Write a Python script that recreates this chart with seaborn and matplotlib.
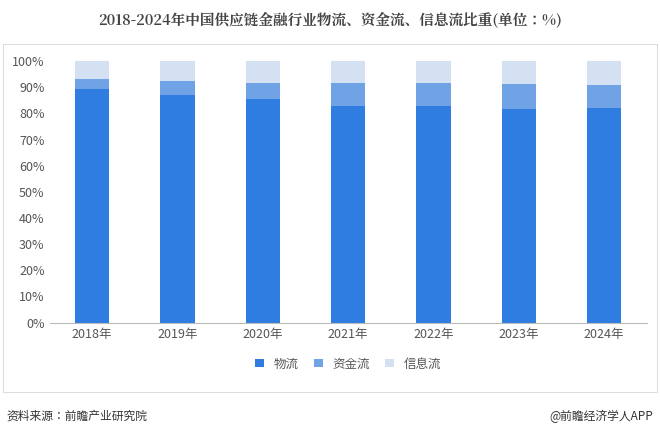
import matplotlib
matplotlib.use("Agg")
import matplotlib.pyplot as plt
from matplotlib import font_manager as fm
import seaborn as sns
import pandas as pd
from matplotlib.ticker import PercentFormatter
import glob

for f in glob.glob("/usr/share/fonts/**/*CJK*", recursive=True) + glob.glob("/usr/share/fonts/**/*cjk*", recursive=True):
    try:
        fm.fontManager.addfont(f)
    except Exception:
        pass
cjk = sorted(set(f.name for f in fm.fontManager.ttflist if "CJK" in f.name))
sans = [n for n in cjk if "Sans" in n]
serif = [n for n in cjk if "Serif" in n]
fam = "Noto Sans CJK SC" if "Noto Sans CJK SC" in sans else (sans[0] if sans else (cjk[0] if cjk else "DejaVu Sans"))
tfam = ("Noto Serif CJK SC" if "Noto Serif CJK SC" in serif else serif[0]) if serif else fam
plt.rcParams["font.family"] = [fam, "DejaVu Sans"]

years = ["2018年", "2019年", "2020年", "2021年", "2022年", "2023年", "2024年"]
wuliu = [89.3, 86.9, 85.5, 82.8, 82.8, 81.6, 82.0]
zijin = [4.0, 5.6, 6.0, 8.7, 8.7, 9.6, 8.8]
xinxi = [6.7, 7.5, 8.5, 8.5, 8.5, 8.8, 9.2]
names = ["物流", "资金流", "信息流"]
colors = ["#2f7de1", "#6fa3e6", "#d3e1f3"]

fig = plt.figure(figsize=(6.6, 4.36), dpi=100)
ax = fig.add_axes([0.075, 0.26, 0.905, 0.6])
fig.patch.set_facecolor("white")

bottoms = [0] * len(years)
for name, vals, c in zip(names, [wuliu, zijin, xinxi], colors):
    df = pd.DataFrame({"year": years, "v": vals})
    sns.barplot(data=df, x="year", y="v", bottom=bottoms, color=c, width=0.4,
                ax=ax, label=name, saturation=1)
    bottoms = [b + v for b, v in zip(bottoms, vals)]

ax.set_ylim(0, 100)
ax.set_yticks(range(0, 101, 10))
ax.yaxis.set_major_formatter(PercentFormatter(decimals=0))
ax.set_xlabel("")
ax.set_ylabel("")
ax.tick_params(length=0, labelsize=9, colors="#555555")
for s in ["top", "right", "left"]:
    ax.spines[s].set_visible(False)
ax.spines["bottom"].set_color("#bbbbbb")
ax.legend(loc="upper center", bbox_to_anchor=(0.5, -0.09), ncol=3, frameon=False,
          fontsize=9, handlelength=0.7, handleheight=0.7, columnspacing=1.2,
          labelcolor="#555555")

fig.text(0.5, 0.955, "2018-2024年中国供应链金融行业物流、资金流、信息流比重(单位：%)",
         ha="center", va="center", fontsize=10.5, fontweight="bold", color="#444444",
         fontfamily=tfam)
fig.add_artist(plt.Rectangle((0.005, 0.1), 0.99, 0.80, fill=False, edgecolor="#dddddd",
                             lw=0.8, transform=fig.transFigure))
fig.text(0.01, 0.045, "资料来源：前瞻产业研究院", fontsize=8.5, color="#333333", va="center")
fig.text(0.99, 0.045, "@前瞻经济学人APP", fontsize=8.5, color="#333333", va="center", ha="right")
fig.savefig("out.png", dpi=100)
